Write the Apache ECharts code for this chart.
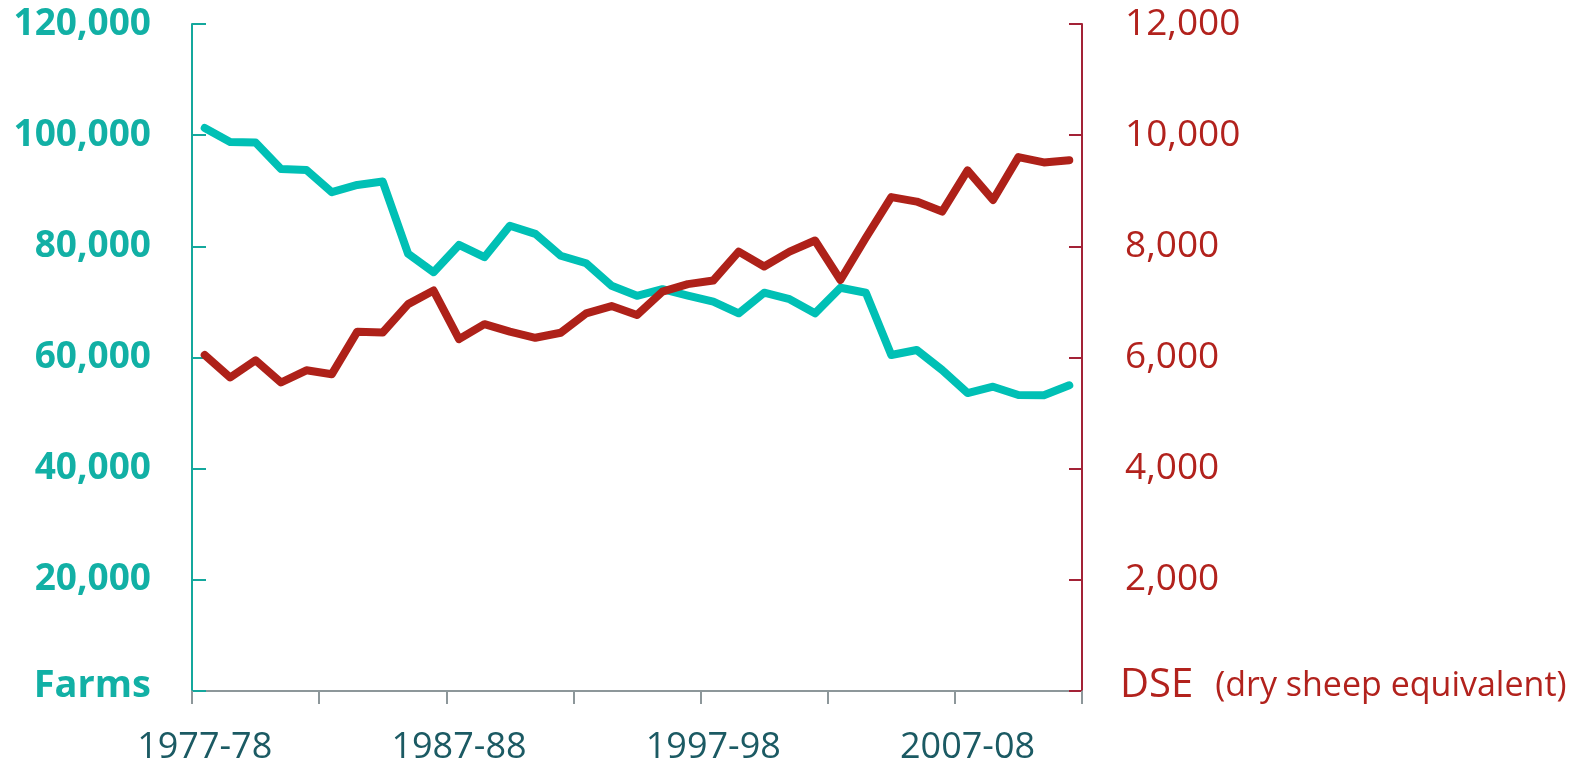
<!doctype html>
<html lang="en">
<head>
<meta charset="utf-8"/>
<title>Farms and DSE</title>
<style>
  html, body { margin: 0; padding: 0; background: #ffffff; }
  #chart { width: 1595px; height: 764px; }
</style>
</head>
<body>
<div id="chart"></div>
<script src="https://cdn.jsdelivr.net/npm/echarts@6/dist/echarts.min.js"></script>
<script>
// Financial years on the x axis
const years = [
  "1977-78", "1978-79", "1979-80", "1980-81", "1981-82", "1982-83", "1983-84",
  "1984-85", "1985-86", "1986-87", "1987-88", "1988-89", "1989-90", "1990-91",
  "1991-92", "1992-93", "1993-94", "1994-95", "1995-96", "1996-97", "1997-98",
  "1998-99", "1999-00", "2000-01", "2001-02", "2002-03", "2003-04", "2004-05",
  "2005-06", "2006-07", "2007-08", "2008-09", "2009-10", "2010-11", "2011-12",
];

// Number of farms (left axis)
const farms = [
  101300, 98750, 98700, 93900, 93750, 89750, 91050, 91650, 78650, 75350,
  80250, 78050, 83700, 82250, 78300, 76950, 72900, 71100, 72300, 71150,
  70050, 67950, 71650, 70500, 67950, 72550, 71650, 60450, 61350, 57750,
  53600, 54750, 53250, 53200, 55000,
];

// Average DSE per farm (right axis)
const dse = [
  6045, 5640, 5950, 5550, 5770, 5700, 6465, 6450, 6960, 7205,
  6330, 6600, 6465, 6355, 6445, 6795, 6925, 6765, 7185, 7320,
  7385, 7905, 7637, 7905, 8105, 7395, 8155, 8885, 8805, 8625,
  9365, 8835, 9605, 9510, 9550,
];

const TEAL = "#00c0b5";
const RED = "#ae2119";
const FONT = "'Open Sans', Lato, sans-serif";

const fmt = (v) => v.toLocaleString("en-US");

const chart = echarts.init(document.getElementById("chart"), null, { renderer: "canvas" });
chart.setOption({
  animation: false,
  backgroundColor: "#ffffff",
  grid: {
    left: 192, right: 513, top: 24, bottom: 73,
    containLabel: false,
    outerBoundsMode: "none",
  },
  xAxis: {
    type: "category",
    data: years,
    boundaryGap: true,
    axisLine: { show: true, lineStyle: { color: "#8d979a", width: 2 } },
    axisTick: { show: true, interval: 4, length: 13, lineStyle: { color: "#8d979a", width: 2 } },
    axisLabel: {
      interval: 9,
      margin: 39,
      color: "#1b5a63",
      fontFamily: FONT,
      fontSize: 36,
    },
    splitLine: { show: false },
  },
  yAxis: [
    {
      type: "value",
      min: 0,
      max: 120000,
      interval: 20000,
      position: "left",
      axisLine: { show: true, lineStyle: { color: "#14a89d", width: 2 } },
      axisTick: { show: true, inside: true, length: 14, lineStyle: { color: "#14a89d", width: 2 } },
      splitLine: { show: false },
      axisLabel: {
        margin: 41,
        color: "#12b0a5",
        fontFamily: FONT,
        fontSize: 37,
        fontWeight: "bold",
        formatter: (v) => (v === 0 ? "{farms|Farms}" : fmt(v)),
        rich: {
          farms: {
            color: "#12b0a5",
            fontFamily: FONT,
            fontSize: 38,
            fontWeight: "bold",
            padding: [0, 0, 10, 0],
          },
        },
      },
    },
    {
      type: "value",
      min: 0,
      max: 12000,
      interval: 2000,
      position: "right",
      axisLine: { show: true, lineStyle: { color: "#a32236", width: 2 } },
      axisTick: { show: true, inside: true, length: 13, lineStyle: { color: "#a32236", width: 2 } },
      splitLine: { show: false },
      axisLabel: {
        margin: 43,
        color: "#b2221d",
        fontFamily: FONT,
        fontSize: 37,
        formatter: (v) => (v === 0 ? "{dse|DSE}{sub|(dry sheep equivalent)}" : fmt(v)),
        rich: {
          dse: {
            color: "#b2221d",
            fontFamily: FONT,
            fontSize: 40,
            padding: [0, 0, 10, -5],
          },
          sub: {
            color: "#b2221d",
            fontFamily: FONT,
            fontSize: 34,
            padding: [0, 0, 10, 22],
          },
        },
      },
    },
  ],
  series: [
    {
      name: "Farms",
      type: "line",
      data: farms,
      yAxisIndex: 0,
      showSymbol: false,
      symbol: "none",
      lineStyle: { color: TEAL, width: 8, cap: "round", join: "round" },
    },
    {
      name: "DSE",
      type: "line",
      data: dse,
      yAxisIndex: 1,
      showSymbol: false,
      symbol: "none",
      lineStyle: { color: RED, width: 8, cap: "round", join: "round" },
    },
  ],
});
</script>
</body>
</html>
